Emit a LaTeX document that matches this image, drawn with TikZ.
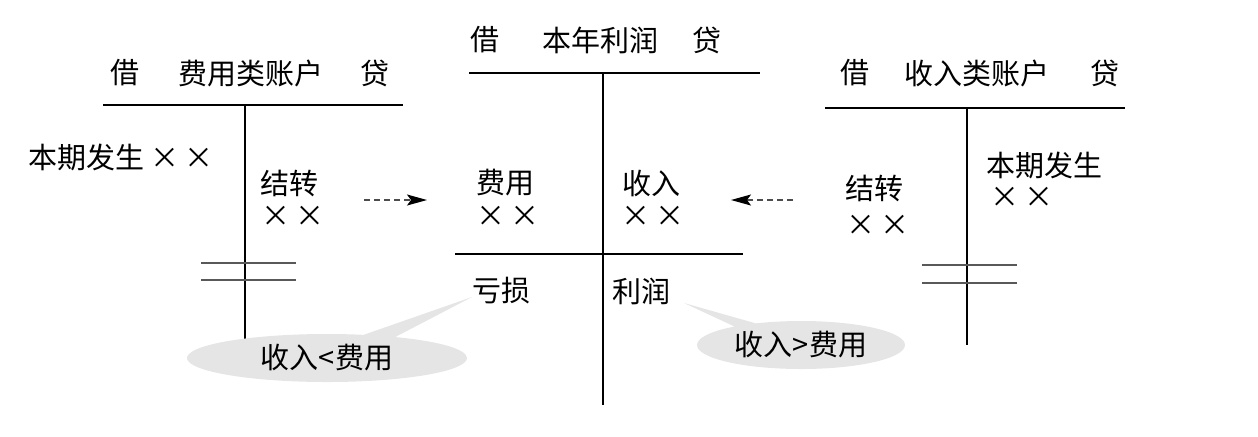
\documentclass[tikz,border=0pt]{standalone}
\usepackage{fontspec}
\setmainfont{Noto Sans CJK SC}
\usetikzlibrary{arrows.meta,shapes}

\begin{document}
\begin{tikzpicture}[x=0.5pt,y=-0.5pt,
			every node/.style={font=\fontsize{14.5}{16}\selectfont,inner sep=0pt},
			tline/.style={line width=0.55pt},
			dline/.style={line width=0.7pt,black!65},
			move arrow/.style={-{Stealth[length=10pt,width=5.5pt,inset=2pt,color=black]},densely dashed,black!70,line width=0.6pt},
			note/.style={ellipse callout,fill=gray!20,minimum width=140pt,minimum height=24pt,callout pointer arc=14}
			]
			\useasboundingbox (0,0) rectangle (1258,436);

			% left account
			\coordinate (fl) at (103,105);
			\coordinate (fr) at (403,105);
			\coordinate (ft) at (245,105);
			\coordinate (fb) at (245,342);
			\draw[tline] (fl) -- (fr);
			\draw[tline] (ft) -- (fb);
			\node (fjie) at (125,73) {借};
			\node (fname) at (251,73) {费用类账户};
			\node (fdai) at (375,73) {贷};
			\node (fcur) at (121,157) {本期发生 ×\,×};
			\node[anchor=west] (fzz) at (260,183) {结转};
			\node[anchor=west] (fzzv) at (261,216) {×\,×};
			\coordinate (fd1l) at (201,263);
			\coordinate (fd1r) at (296,263);
			\coordinate (fd2l) at (201,280);
			\coordinate (fd2r) at (296,280);
			\draw[dline] (fd1l) -- (fd1r);
			\draw[dline] (fd2l) -- (fd2r);

			% middle account
			\coordinate (pl) at (469,73);
			\coordinate (pr) at (760,73);
			\coordinate (pt) at (603,73);
			\coordinate (pb) at (603,405);
			\coordinate (pml) at (455,254);
			\coordinate (pmr) at (743,254);
			\draw[tline] (pl) -- (pr);
			\draw[tline] (pt) -- (pb);
			\draw[tline] (pml) -- (pmr);
			\node (pjie) at (485,40) {借};
			\node (pname) at (600,40) {本年利润};
			\node (pdai) at (707,40) {贷};
			\node[anchor=west] (pfee) at (476,183) {费用};
			\node[anchor=west] (pfeev) at (476,216) {×\,×};
			\node[anchor=west] (pinc) at (622,183) {收入};
			\node[anchor=west] (pincv) at (621,216) {×\,×};
			\node[anchor=west] (ploss) at (472,291) {亏损};
			\node[anchor=west] (pgain) at (612,291) {利润};

			% right account
			\coordinate (sl) at (825,108);
			\coordinate (sr) at (1125,108);
			\coordinate (st) at (967,108);
			\coordinate (sb) at (967,345);
			\draw[tline] (sl) -- (sr);
			\draw[tline] (st) -- (sb);
			\node (sjie) at (855,73) {借};
			\node (sname) at (977,73) {收入类账户};
			\node (sdai) at (1105,73) {贷};
			\node[anchor=west] (scur) at (986,165) {本期发生};
			\node[anchor=west] (scurv) at (990,197) {×\,×};
			\node[anchor=west] (szz) at (845,188) {结转};
			\node[anchor=west] (szzv) at (846,225) {×\,×};
			\coordinate (sd1l) at (922,265);
			\coordinate (sd1r) at (1017,265);
			\coordinate (sd2l) at (922,283);
			\coordinate (sd2r) at (1017,283);
			\draw[dline] (sd1l) -- (sd1r);
			\draw[dline] (sd2l) -- (sd2r);

			% transfers
			\coordinate (a1) at (364,200);
			\coordinate (a2) at (427,200);
			\coordinate (b1) at (793,200);
			\coordinate (b2) at (731,200);
			\draw[move arrow] (a1) -- (a2);
			\draw[move arrow] (b1) -- (b2);

			% notes
			\coordinate (ltip) at (472,297);
			\coordinate (rtip) at (684,303);
			\node[note,callout absolute pointer={(ltip)}] (lnote) at (327,358) {收入<费用};
			\node[note,minimum width=104pt,callout absolute pointer={(rtip)}] (rnote) at (801,345) {收入>费用};
		\end{tikzpicture}
\end{document}
